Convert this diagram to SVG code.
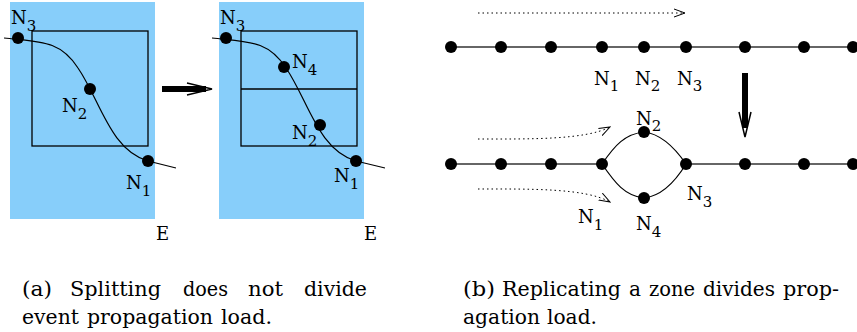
<svg xmlns="http://www.w3.org/2000/svg" width="857" height="332" viewBox="0 0 857 332">
<style>
.zone{fill:#87cefa;stroke:none}
.box{fill:none;stroke:#000;stroke-width:1.3}
.curve{fill:none;stroke:#000;stroke-width:1.2}
.line{stroke:#333;stroke-width:1.5}
.dot{fill:#000}
.lbl{font-family:"DejaVu Serif","Liberation Serif",serif;font-size:18px;fill:#000}
.sub{font-size:15px}
.cap{font-family:"DejaVu Serif","Liberation Serif",serif;font-size:20px;fill:#000}
.dotted{fill:none;stroke:#000;stroke-width:1;stroke-dasharray:1.5 3}
</style>
<defs>
<marker id="open" markerWidth="12" markerHeight="10" refX="11" refY="5" orient="auto" markerUnits="userSpaceOnUse">
<path d="M0,1 L11,5 L0,9" fill="none" stroke="#000" stroke-width="1"/>
</marker>
</defs>

<g id="panel-a">
<rect class="zone" x="10" y="2" width="145" height="217"/>
<rect class="box" x="32" y="31" width="116" height="115"/>
<path class="curve" d="M4,38 C40,42 60,40 78,68 C100,100 110,150 148,161 L176,168"/>
<circle class="dot" cx="18" cy="38" r="6"/>
<circle class="dot" cx="90" cy="89" r="6"/>
<circle class="dot" cx="148" cy="161" r="6"/>
<text class="lbl" x="11" y="24">N<tspan class="sub" dy="7">3</tspan></text>
<text class="lbl" x="62" y="112">N<tspan class="sub" dy="7">2</tspan></text>
<text class="lbl" x="126" y="189">N<tspan class="sub" dy="7">1</tspan></text>
<text class="lbl" x="156" y="240">E</text>
</g>

<g id="split-arrow">
<line x1="162" y1="89" x2="206" y2="89" stroke="#000" stroke-width="6"/>
<path d="M187,83 L212,89 L187,95" fill="none" stroke="#000" stroke-width="1.5"/>
</g>

<g id="panel-a2">
<rect class="zone" x="219" y="2" width="145" height="217"/>
<rect class="box" x="241" y="31" width="116" height="115"/>
<line class="box" x1="241" y1="89" x2="357" y2="89"/>
<path class="curve" d="M212,38 C248,42 268,40 286,68 C308,100 318,150 356,161 L385,168"/>
<circle class="dot" cx="226" cy="38" r="6"/>
<circle class="dot" cx="284" cy="67" r="6"/>
<circle class="dot" cx="320" cy="125" r="6"/>
<circle class="dot" cx="356" cy="161" r="6"/>
<text class="lbl" x="220" y="24">N<tspan class="sub" dy="7">3</tspan></text>
<text class="lbl" x="292" y="68">N<tspan class="sub" dy="7">4</tspan></text>
<text class="lbl" x="292" y="139">N<tspan class="sub" dy="7">2</tspan></text>
<text class="lbl" x="334" y="182">N<tspan class="sub" dy="7">1</tspan></text>
<text class="lbl" x="364" y="240">E</text>
</g>

<g id="connectors">
<line class="line" x1="451" y1="47" x2="857" y2="47"/>
<line class="dotted" x1="478" y1="13" x2="685" y2="13" marker-end="url(#open)"/>
<line x1="745" y1="73" x2="745" y2="128" stroke="#000" stroke-width="6"/>
<path d="M739,112 L745,137 L751,112" fill="none" stroke="#000" stroke-width="1.5"/>
<line class="line" x1="451" y1="164" x2="602" y2="164"/>
<line class="line" x1="686" y1="164" x2="857" y2="164"/>
<path class="curve" d="M602,164 C615,145 625,134 644,132 C662,134 675,148 686,164"/>
<path class="curve" d="M602,164 C615,183 625,196 644,198 C662,196 675,182 686,164"/>
<path class="dotted" d="M478,139 C530,139 585,140 610,127" marker-end="url(#open)"/>
<path class="dotted" d="M478,189 C530,189 585,188 610,202" marker-end="url(#open)"/>
</g>

<g id="chain-top">
<circle class="dot" cx="451" cy="47" r="6"/>
<circle class="dot" cx="501" cy="47" r="6"/>
<circle class="dot" cx="551" cy="47" r="6"/>
<circle class="dot" cx="602" cy="47" r="6"/>
<circle class="dot" cx="644" cy="47" r="6"/>
<circle class="dot" cx="686" cy="47" r="6"/>
<circle class="dot" cx="745" cy="47" r="6"/>
<circle class="dot" cx="804" cy="47" r="6"/>
<circle class="dot" cx="853" cy="47" r="6"/>
<text class="lbl" x="594" y="85">N<tspan class="sub" dy="6">1</tspan></text>
<text class="lbl" x="635" y="85">N<tspan class="sub" dy="6">2</tspan></text>
<text class="lbl" x="677" y="85">N<tspan class="sub" dy="6">3</tspan></text>
</g>

<g id="chain-bottom">
<circle class="dot" cx="451" cy="164" r="6"/>
<circle class="dot" cx="501" cy="164" r="6"/>
<circle class="dot" cx="551" cy="164" r="6"/>
<circle class="dot" cx="602" cy="164" r="6"/>
<circle class="dot" cx="644" cy="132" r="6"/>
<circle class="dot" cx="644" cy="198" r="6"/>
<circle class="dot" cx="686" cy="164" r="6"/>
<circle class="dot" cx="745" cy="164" r="6"/>
<circle class="dot" cx="804" cy="164" r="6"/>
<circle class="dot" cx="853" cy="164" r="6"/>
<text class="lbl" x="636" y="125">N<tspan class="sub" dy="6">2</tspan></text>
<text class="lbl" x="636" y="230">N<tspan class="sub" dy="7">4</tspan></text>
<text class="lbl" x="578" y="223">N<tspan class="sub" dy="7">1</tspan></text>
<text class="lbl" x="687" y="200">N<tspan class="sub" dy="7">3</tspan></text>
</g>

<g id="captions">
<text class="cap" x="22" y="296" textLength="30" lengthAdjust="spacingAndGlyphs">(a)</text>
<text class="cap" x="70" y="296" textLength="91" lengthAdjust="spacingAndGlyphs">Splitting</text>
<text class="cap" x="183" y="296" textLength="45" lengthAdjust="spacingAndGlyphs">does</text>
<text class="cap" x="248" y="296" textLength="35" lengthAdjust="spacingAndGlyphs">not</text>
<text class="cap" x="304" y="296" textLength="63" lengthAdjust="spacingAndGlyphs">divide</text>
<text class="cap" x="22" y="324" textLength="57" lengthAdjust="spacingAndGlyphs">event</text>
<text class="cap" x="87" y="324" textLength="126" lengthAdjust="spacingAndGlyphs">propagation</text>
<text class="cap" x="221" y="324" textLength="51" lengthAdjust="spacingAndGlyphs">load.</text>
<text class="cap" x="463" y="296" textLength="32" lengthAdjust="spacingAndGlyphs">(b)</text>
<text class="cap" x="502" y="296" textLength="119" lengthAdjust="spacingAndGlyphs">Replicating</text>
<text class="cap" x="629" y="296" textLength="12" lengthAdjust="spacingAndGlyphs">a</text>
<text class="cap" x="649" y="296" textLength="46" lengthAdjust="spacingAndGlyphs">zone</text>
<text class="cap" x="703" y="296" textLength="72" lengthAdjust="spacingAndGlyphs">divides</text>
<text class="cap" x="783" y="296" textLength="56" lengthAdjust="spacingAndGlyphs">prop-</text>
<text class="cap" x="463" y="324" textLength="77" lengthAdjust="spacingAndGlyphs">agation</text>
<text class="cap" x="547" y="324" textLength="50" lengthAdjust="spacingAndGlyphs">load.</text>
</g>
</svg>
